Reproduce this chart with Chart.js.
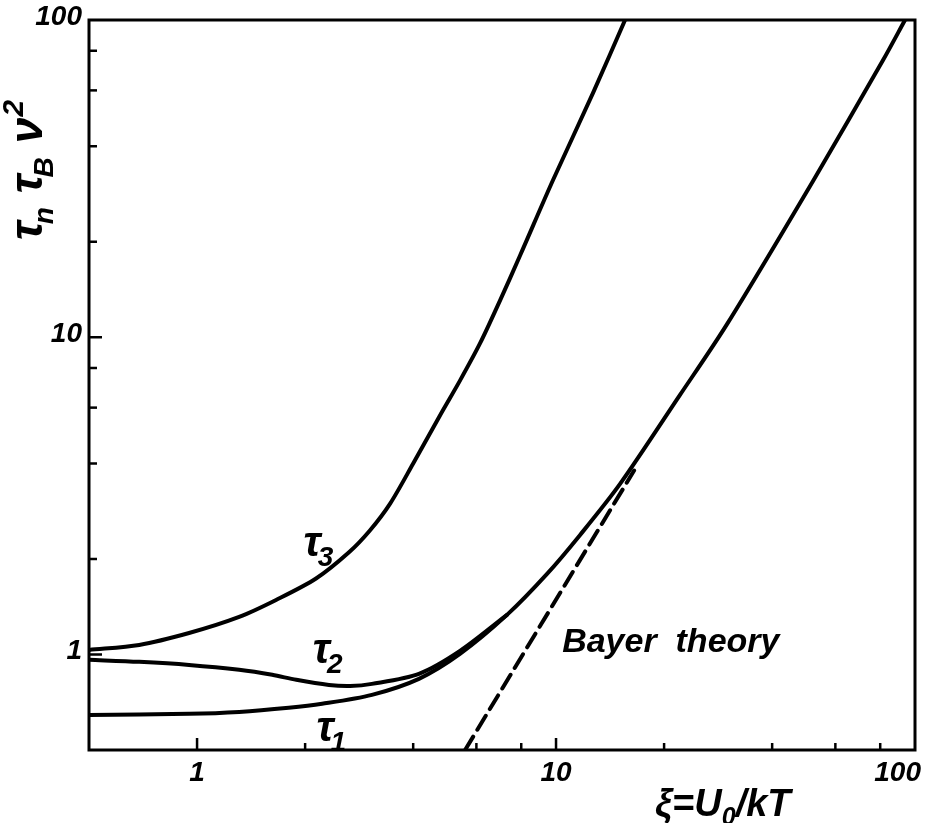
<!DOCTYPE html>
<html>
<head>
<meta charset="utf-8">
<script src="https://cdn.jsdelivr.net/npm/chart.js@4.4.1/dist/chart.umd.min.js"></script>
<style>
  html, body { margin: 0; padding: 0; background: #fff; }
  #wrap { width: 933px; height: 823px; }
</style>
</head>
<body>
<div id="wrap"><canvas id="relaxChart" width="933" height="823"></canvas></div>
<script>
// xi = U0/kT against tau_n * tau_B * nu^2
const tau1Xi = [0.5, 0.95, 1.31, 1.80, 2.23, 3.07, 4.15, 5.40, 7.30, 9.44, 11.67, 15.08, 22.15, 29.95, 52.0, 81.5, 93.8];
const tau1Val = [0.645, 0.650, 0.659, 0.679, 0.699, 0.746, 0.838, 1.004, 1.333, 1.795, 2.382, 3.448, 6.58, 11.0, 31.1, 74.8, 100];

const tau2Xi = [0.5, 0.69, 0.95, 1.31, 1.62, 1.89, 2.33, 2.67, 3.07, 4.15, 5.40, 7.30];
const tau2Val = [0.962, 0.948, 0.927, 0.895, 0.863, 0.832, 0.802, 0.796, 0.808, 0.869, 1.026, 1.333];

const tau3Xi = [0.5, 0.69, 0.95, 1.31, 1.66, 2.145, 2.65, 3.03, 3.45, 4.0, 4.75, 5.40, 6.14, 6.98, 7.94, 9.81, 12.68, 15.57];
const tau3Val = [1.034, 1.072, 1.169, 1.314, 1.486, 1.736, 2.10, 2.46, 2.99, 4.0, 5.67, 7.30, 9.56, 13.05, 18.1, 31.3, 58.9, 100];

// Bayer theory: straight line on the log-log plot
const bayerXi = [5.58, 16.5];
const bayerVal = [0.5, 3.8];

const xTickLabels = [1, 10, 100];
const yTickLabels = [1, 10, 100];
const minorSteps = [2, 4, 6, 8];

const FONT = '"Liberation Sans", "DejaVu Sans", sans-serif';

function toPoints(xs, ys) {
    return xs.map((x, i) => ({x, y: ys[i]}));
}

function curve(label, xs, ys, dash) {
    return {
        label,
        data: toPoints(xs, ys),
        showLine: true,
        borderColor: '#000',
        borderWidth: 4,
        borderDash: dash || [],
        borderCapStyle: 'round',
        borderJoinStyle: 'round',
        pointRadius: 0,
        tension: 0.3,
        fill: false
    };
}

// draws a run of text pieces, each with its own size and vertical shift
function drawPieces(ctx, pieces, x, y) {
    let cx = x;
    pieces.forEach(p => {
        if (p.gap) {
            cx += p.gap;
            return;
        }
        ctx.font = `italic bold ${p.size}px ${FONT}`;
        ctx.fillText(p.text, cx, y + (p.dy || 0));
        cx += ctx.measureText(p.text).width + (p.after || 0);
    });
    return cx - x;
}

function piecesWidth(ctx, pieces) {
    let w = 0;
    pieces.forEach(p => {
        if (p.gap) {
            w += p.gap;
            return;
        }
        ctx.font = `italic bold ${p.size}px ${FONT}`;
        w += ctx.measureText(p.text).width + (p.after || 0);
    });
    return w;
}

function tauLabel(n) {
    return [{text: '\u03C4', size: 42, after: -3}, {text: String(n), size: 28, dy: 10}];
}

const axesFrame = {
    id: 'axesFrame',
    afterDatasetsDraw(chart) {
        const {ctx, chartArea: a, scales: {x, y}} = chart;
        ctx.save();
        ctx.strokeStyle = '#000';
        ctx.fillStyle = '#000';
        ctx.lineWidth = 3;
        ctx.strokeRect(a.left, a.top, a.right - a.left, a.bottom - a.top);

        // inward ticks
        ctx.lineWidth = 2.5;
        [1, 10].forEach(dec => {
            minorSteps.forEach(m => {
                const v = dec * m;
                const px = x.getPixelForValue(v);
                ctx.beginPath();
                ctx.moveTo(px, a.bottom);
                ctx.lineTo(px, a.bottom - 7);
                ctx.stroke();
                const py = y.getPixelForValue(v);
                ctx.beginPath();
                ctx.moveTo(a.left, py);
                ctx.lineTo(a.left + 8, py);
                ctx.stroke();
            });
        });
        [1, 10].forEach(v => {
            const px = x.getPixelForValue(v);
            ctx.beginPath();
            ctx.moveTo(px, a.bottom);
            ctx.lineTo(px, a.bottom - 12);
            ctx.stroke();
            const py = y.getPixelForValue(v);
            ctx.beginPath();
            ctx.moveTo(a.left, py);
            ctx.lineTo(a.left + 13, py);
            ctx.stroke();
        });

        // tick labels
        ctx.font = `italic bold 28px ${FONT}`;
        ctx.textBaseline = 'middle';
        ctx.textAlign = 'right';
        yTickLabels.forEach(v => {
            ctx.fillText(String(v), a.left - 7, y.getPixelForValue(v) - 3);
        });
        ctx.textAlign = 'center';
        xTickLabels.forEach(v => {
            const txt = String(v);
            const w = ctx.measureText(txt).width;
            let px = x.getPixelForValue(v);
            if (px + w / 2 > chart.width - 12) {
                px = chart.width - 12 - w / 2;
            }
            ctx.fillText(txt, px, a.bottom + 23);
        });

        // curve labels, anchored in data space
        ctx.textAlign = 'left';
        ctx.textBaseline = 'alphabetic';
        [[3, 1.98, 2.05], [2, 2.1, 0.94], [1, 2.15, 0.535]].forEach(([n, xv, yv]) => {
            drawPieces(ctx, tauLabel(n), x.getPixelForValue(xv), y.getPixelForValue(yv));
        });
        drawPieces(ctx, [{text: 'Bayer  theory', size: 34}],
            x.getPixelForValue(10.4), y.getPixelForValue(1.02));

        // x axis title
        drawPieces(ctx, [
            {text: '\u03BE=U', size: 38},
            {text: '0', size: 25, dy: 9},
            {text: '/kT', size: 38}
        ], a.right - 260, a.bottom + 66);

        // y axis title, rotated
        const yTitle = [
            {text: '\u03C4', size: 46, after: -3}, {text: 'n', size: 28, dy: 11},
            {gap: 14},
            {text: '\u03C4', size: 46, after: -3}, {text: 'B', size: 28, dy: 11},
            {gap: 14},
            {text: '\u03BD', size: 46, after: 1}, {text: '2', size: 30, dy: -19}
        ];
        const w = piecesWidth(ctx, yTitle);
        ctx.translate(42, 170);
        ctx.rotate(-Math.PI / 2);
        drawPieces(ctx, yTitle, -w / 2, 0);
        ctx.restore();
    }
};

const ctx = document.getElementById('relaxChart').getContext('2d');
new Chart(ctx, {
    type: 'scatter',
    data: {
        datasets: [
            curve('tau1', tau1Xi, tau1Val),
            curve('tau2', tau2Xi, tau2Val),
            curve('tau3', tau3Xi, tau3Val),
            curve('Bayer theory', bayerXi, bayerVal, [16, 8])
        ]
    },
    options: {
        responsive: false,
        animation: false,
        devicePixelRatio: 1,
        layout: {
            padding: {left: 89, right: 18, top: 20, bottom: 73}
        },
        plugins: {
            legend: {display: false},
            tooltip: {enabled: false}
        },
        scales: {
            x: {type: 'logarithmic', min: 0.5, max: 100, display: false},
            y: {type: 'logarithmic', min: 0.5, max: 100, display: false}
        }
    },
    plugins: [axesFrame]
});
</script>
</body>
</html>
